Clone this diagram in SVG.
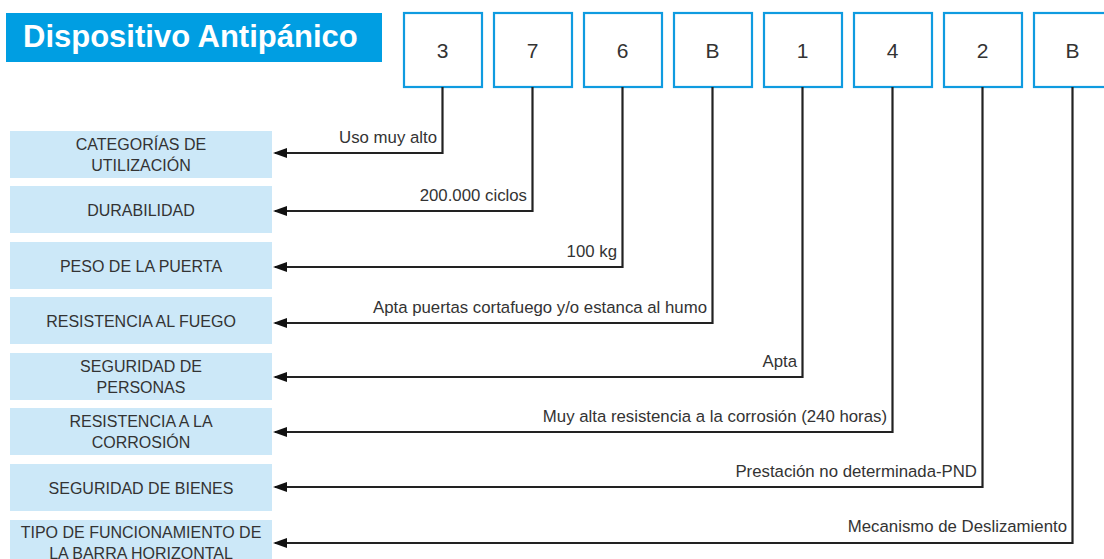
<svg xmlns="http://www.w3.org/2000/svg" width="1104" height="559" viewBox="0 0 1104 559">
<style>
  .title{font-family:"Liberation Sans",Arial,sans-serif;font-weight:bold;font-size:31px;fill:#ffffff}
  .code rect{fill:#ffffff;stroke:#0f9be0;stroke-width:2.2}
  .code text{font-family:"Liberation Sans",Arial,sans-serif;font-size:21px;fill:#333333;text-anchor:middle}
  .lbl rect{fill:#cce8f8}
  .lbl text{font-family:"Liberation Sans",Arial,sans-serif;font-size:16px;fill:#333333;text-anchor:middle}
  .conn path{fill:none;stroke:#222222;stroke-width:2.2;marker-end:url(#arr)}
  .conn text{font-family:"Liberation Sans",Arial,sans-serif;font-size:16.8px;fill:#333333;text-anchor:end}
</style>
<defs>
  <marker id="arr" markerUnits="userSpaceOnUse" markerWidth="16" markerHeight="12" refX="12" refY="5" orient="auto">
    <path d="M0,0 L14,5 L0,10 Z" fill="#111111"/>
  </marker>
</defs>
<rect width="1104" height="559" fill="#ffffff"/>
<g id="title">
  <rect x="6" y="13" width="376" height="49" fill="#009ee2"/>
  <text class="title" x="23" y="47">Dispositivo Antipánico</text>
</g>
<g id="code1" class="code"><rect x="404" y="13" width="78" height="74"/><text x="442.5" y="58">3</text></g>
<g id="code2" class="code"><rect x="494" y="13" width="78" height="74"/><text x="532.5" y="58">7</text></g>
<g id="code3" class="code"><rect x="584" y="13" width="78" height="74"/><text x="622.5" y="58">6</text></g>
<g id="code4" class="code"><rect x="674" y="13" width="78" height="74"/><text x="712.5" y="58">B</text></g>
<g id="code5" class="code"><rect x="764" y="13" width="78" height="74"/><text x="802.5" y="58">1</text></g>
<g id="code6" class="code"><rect x="854" y="13" width="78" height="74"/><text x="892.5" y="58">4</text></g>
<g id="code7" class="code"><rect x="944" y="13" width="78" height="74"/><text x="982.5" y="58">2</text></g>
<g id="code8" class="code"><rect x="1034" y="13" width="78" height="74"/><text x="1072.5" y="58">B</text></g>

<g id="lbl1" class="lbl"><rect x="10" y="131" width="262" height="47"/><text x="141" y="150">CATEGORÍAS DE</text><text x="141" y="171">UTILIZACIÓN</text></g>
<g id="lbl2" class="lbl"><rect x="10" y="186" width="262" height="47"/><text x="141" y="216">DURABILIDAD</text></g>
<g id="lbl3" class="lbl"><rect x="10" y="242" width="262" height="47"/><text x="141" y="272">PESO DE LA PUERTA</text></g>
<g id="lbl4" class="lbl"><rect x="10" y="297" width="262" height="47"/><text x="141" y="327">RESISTENCIA AL FUEGO</text></g>
<g id="lbl5" class="lbl"><rect x="10" y="353" width="262" height="47"/><text x="141" y="372">SEGURIDAD DE</text><text x="141" y="393">PERSONAS</text></g>
<g id="lbl6" class="lbl"><rect x="10" y="408" width="262" height="47"/><text x="141" y="427">RESISTENCIA A LA</text><text x="141" y="448">CORROSIÓN</text></g>
<g id="lbl7" class="lbl"><rect x="10" y="464" width="262" height="47"/><text x="141" y="494">SEGURIDAD DE BIENES</text></g>
<g id="lbl8" class="lbl"><rect x="10" y="520" width="262" height="47"/><text x="141" y="538">TIPO DE FUNCIONAMIENTO DE</text><text x="141" y="559">LA BARRA HORIZONTAL</text></g>

<g id="connectors" class="conn">
  <path d="M442.5,87 V153 H275"/><text x="437" y="143">Uso muy alto</text>
  <path d="M532.5,87 V211 H275"/><text x="527" y="201">200.000 ciclos</text>
  <path d="M622.5,87 V267 H275"/><text x="617" y="257">100 kg</text>
  <path d="M712.5,87 V323 H275"/><text x="707" y="313">Apta puertas cortafuego y/o estanca al humo</text>
  <path d="M802.5,87 V377 H275"/><text x="797" y="367">Apta</text>
  <path d="M892.5,87 V432 H275"/><text x="887" y="422">Muy alta resistencia a la corrosión (240 horas)</text>
  <path d="M982.5,87 V487 H275"/><text x="977" y="477">Prestación no determinada-PND</text>
  <path d="M1072.5,87 V543 H275"/><text x="1067" y="532">Mecanismo de Deslizamiento</text>
</g>
</svg>
